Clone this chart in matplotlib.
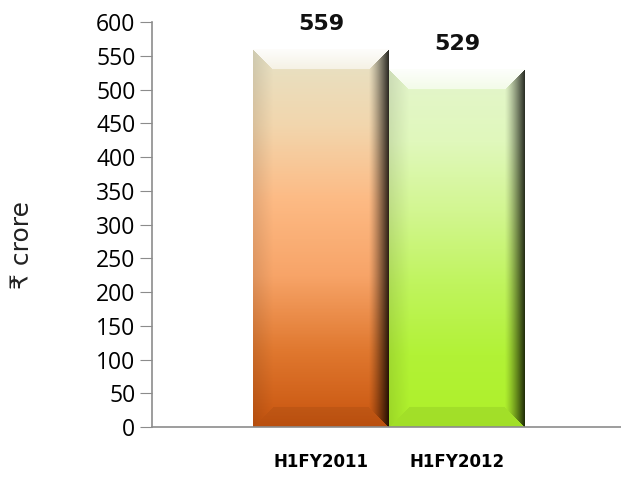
import numpy as np
import matplotlib.pyplot as plt
from matplotlib.colors import LinearSegmentedColormap

periods = ['H1FY2011', 'H1FY2012']
values = [559, 529]

# gradient stops, bottom -> top
orange_stops = ['#c8550f', '#e0782f', '#f7a468', '#fdba84', '#f2d6ad', '#e6e2c6']
green_stops = ['#aef02a', '#b2f236', '#c0f45e', '#d2f690', '#e0f8bc', '#e4f5cc']

fig = plt.figure(figsize=(6.21, 4.91), dpi=100)
ax = fig.add_axes([0.245, 0.1303, 0.755, 0.8247])

x = np.arange(len(values))
bars = ax.bar(x, values, width=1.0, color='none', edgecolor='none', zorder=2)

px_per_unit = 405 / 600  # vertical pixels per value unit
bev = 20  # bevel depth in pixels
for bar, stops in zip(bars, [orange_stops, green_stops]):
    cmap = LinearSegmentedColormap.from_list('g', stops)
    bh = bar.get_height()
    ny, nx = int(bh * px_per_unit), 136
    v = np.linspace(0, 1, ny)[:, None]
    rgb = cmap(np.repeat(v, nx, axis=1))[:, :, :3]
    # distances from each edge in pixels
    yy = np.arange(ny)[:, None] * np.ones((1, nx))
    xx = np.ones((ny, 1)) * np.arange(nx)[None, :]
    d_top = ny - 1 - yy
    d_bot = yy
    d_left = xx
    d_right = nx - 1 - xx
    dmin = np.minimum(np.minimum(d_top, d_bot), np.minimum(d_left, d_right))
    inb = dmin < bev
    top_face = inb & (d_top == dmin)
    right_face = inb & (d_right == dmin) & ~top_face
    left_face = inb & (d_left == dmin) & ~top_face & ~right_face
    bot_face = inb & (d_bot == dmin) & ~top_face & ~right_face & ~left_face
    # top face: near-white highlight, fading downwards
    t = (d_top / bev)[:, :, None]
    rgb = np.where(top_face[:, :, None], rgb * (0.08 + 0.35 * t) + (0.92 - 0.35 * t), rgb)
    # right face: dark towards edge
    r = (1 - d_right / bev)[:, :, None]
    rgb = np.where(right_face[:, :, None], rgb * (1 - 0.8 * r ** 1.3), rgb)
    # left face: slightly darker
    l = (1 - d_left / bev)[:, :, None]
    rgb = np.where(left_face[:, :, None], rgb * (1 - 0.1 * l), rgb)
    # bottom face: a little darker
    rgb = np.where(bot_face[:, :, None], rgb * 0.93, rgb)
    x0 = bar.get_x()
    ax.imshow(rgb, extent=[x0, x0 + bar.get_width(), 0, bh], origin='lower',
              aspect='auto', zorder=2, interpolation='bilinear')
    ax.text(bar.get_x() + bar.get_width() / 2, bh + 38, str(int(bh)),
            ha='center', va='center', fontsize=16, fontweight='bold',
            family='DejaVu Sans', color='#111111')

ax.set_xlim(-1.243, 2.206)
ax.set_ylim(0, 600)
ax.set_yticks(range(0, 601, 50))
ax.set_xticks(x)
ax.set_xticklabels(periods, fontsize=12, fontweight='bold', family='DejaVu Sans')
ax.tick_params(axis='x', length=0, pad=19)
ax.tick_params(axis='y', length=9, color='#8c8c8c', labelsize=16.5, pad=3)
for lab in ax.get_yticklabels():
    lab.set_family('Open Sans')

for s in ['top', 'right']:
    ax.spines[s].set_visible(False)
for s in ['left', 'bottom']:
    ax.spines[s].set_color('#8c8c8c')
    ax.spines[s].set_linewidth(1.2)
ax.spines['bottom'].set_zorder(3)

ax.set_ylabel('₹ crore', fontsize=18, family=['DejaVu Sans'], color='#222222')
ax.yaxis.set_label_coords(-0.252, 0.45)

fig.savefig('out.png', dpi=100)
